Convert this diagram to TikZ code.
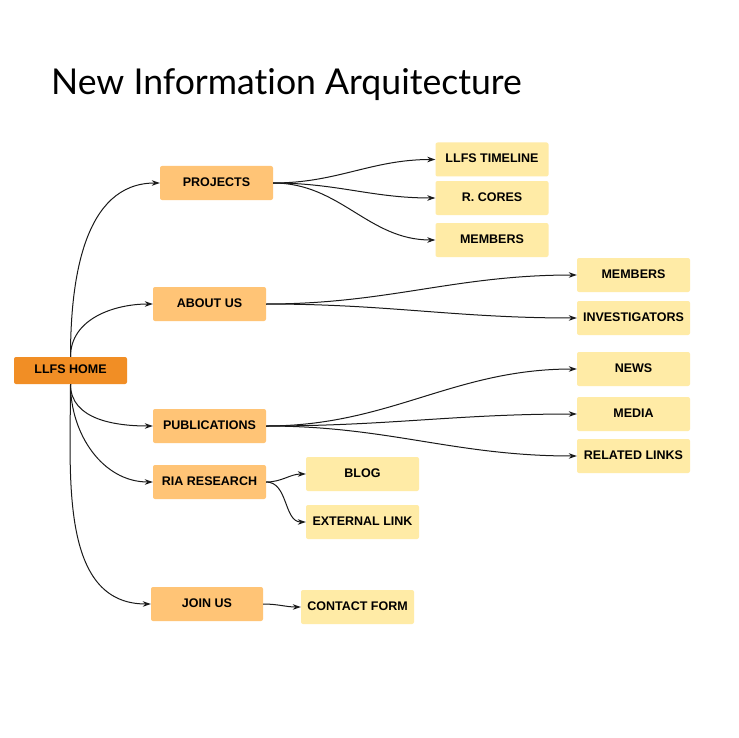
\documentclass[tikz,border=0pt]{standalone}
\usepackage{fontspec}
\setmainfont{Liberation Sans}
\newfontfamily\titlefont[Ligatures={NoCommon}]{Lato}
\usetikzlibrary{arrows.meta}
\definecolor{rootc}{HTML}{F18E25}
\definecolor{onec}{HTML}{FFC476}
\definecolor{twoc}{HTML}{FFEBA6}
\definecolor{linec}{HTML}{1A1A1A}
\begin{document}
\begin{tikzpicture}[x=1pt,y=-1pt,
  box/.style={rounded corners=2pt, minimum width=113pt, minimum height=34pt, inner sep=0pt,
    text height=9pt, text depth=3pt,
    font=\fontsize{12.5}{14}\selectfont\bfseries, text=black},
  rootbox/.style={box, fill=rootc, minimum height=27pt},
  lvlone/.style={box, fill=onec},
  lvltwo/.style={box, fill=twoc},
  link/.style={draw=linec, line width=1pt, -{Stealth[length=8pt,width=5.5pt]}}
]
\useasboundingbox[fill=white] (0,0) rectangle (738,738);

\node[anchor=base west, inner sep=0pt, font=\titlefont\fontsize{35.6}{40}\selectfont] (title) at (51,95) {New Information Arquitecture};

\node[rootbox] (home) at (70.5,370.5) {LLFS HOME};

\node[lvlone] (projects) at (216.5,183) {PROJECTS};
\node[lvlone] (about) at (209.5,304) {ABOUT US};
\node[lvlone] (pubs) at (209.5,426) {PUBLICATIONS};
\node[lvlone] (ria) at (209.5,482) {RIA RESEARCH};
\node[lvlone, minimum width=112pt] (join) at (207,604) {JOIN US};

\node[lvltwo] (timeline) at (492,159.5) {LLFS TIMELINE};
\node[lvltwo] (cores) at (492,198) {R. CORES};
\node[lvltwo] (pmembers) at (492,240) {MEMBERS};

\node[lvltwo] (amembers) at (633.5,275) {MEMBERS};
\node[lvltwo] (invest) at (633.5,318) {INVESTIGATORS};

\node[lvltwo] (news) at (633.5,369) {NEWS};
\node[lvltwo] (media) at (633.5,414) {MEDIA};
\node[lvltwo] (related) at (633.5,456) {RELATED LINKS};

\node[lvltwo] (blog) at (362.5,474) {BLOG};
\node[lvltwo] (external) at (362.5,522) {EXTERNAL LINK};

\node[lvltwo] (contact) at (357.5,607) {CONTACT FORM};

\draw[link] (home.north) to[out=90,in=180] (projects.west);
\draw[link] (home.north) to[out=90,in=180] (about.west);
\draw[link] (home.south) to[out=-90,in=180] (pubs.west);
\draw[link] (home.south) to[out=-90,in=180] (ria.west);
\draw[link] (home.south) to[out=-90,in=180] (join.west);

\draw[link] (projects.east) to[out=0,in=180] (timeline.west);
\draw[link] (projects.east) to[out=0,in=180] (cores.west);
\draw[link] (projects.east) to[out=0,in=180] (pmembers.west);

\draw[link] (about.east) to[out=0,in=180] (amembers.west);
\draw[link] (about.east) to[out=0,in=180] (invest.west);

\draw[link] (pubs.east) to[out=0,in=180] (news.west);
\draw[link] (pubs.east) to[out=0,in=180] (media.west);
\draw[link] (pubs.east) to[out=0,in=180] (related.west);

\draw[link] (ria.east) to[out=0,in=180] (blog.west);
\draw[link] (ria.east) to[out=0,in=180] (external.west);

\draw[link] (join.east) to[out=0,in=180] (contact.west);
\end{tikzpicture}
\end{document}
